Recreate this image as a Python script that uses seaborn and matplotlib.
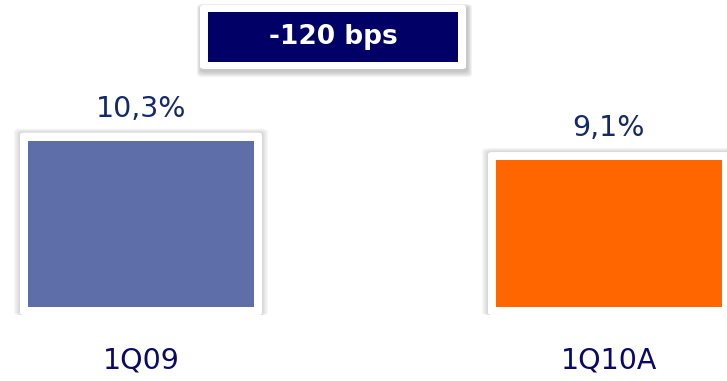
import matplotlib
matplotlib.use("Agg")
import matplotlib.pyplot as plt
from matplotlib.patches import FancyBboxPatch
import seaborn as sns

# Quarterly ratio, first quarter comparison
categories = ["1Q09", "1Q10A"]
values = [10.3, 9.1]
value_labels = ["10,3%", "9,1%"]
bar_colors = ["#5E6EA8", "#FF6600"]
change_label = "-120 bps"

sns.set_theme(style="white")
plt.rcParams["font.family"] = ["DejaVu Sans"]

W, H = 727, 381
fig = plt.figure(figsize=(W / 100, H / 100), dpi=100)
ax = fig.add_axes([0, 0, 1, 1])

sns.barplot(x=categories, y=values, hue=categories, palette=bar_colors,
            width=0.483, legend=False, saturation=1, linewidth=0, ax=ax, zorder=3)

px = 1 / 16.15  # data units per pixel vertically
ax.set_xlim(-141 / 468, 586 / 468)
ax.set_ylim(-74 * px, 307 * px)
ax.axis("off")
ax.set_zorder(2)
ax.patch.set_visible(False)


def framed_box(x0, y0, x1, y1, zorder, grow=(5, 5, 5, 0), shift=(0, 0), alpha=0.05):
    """White card (pixel coords, origin bottom-left) with a soft gray halo."""
    gl, gr, gt, gb = grow
    for k in range(1, 6):
        f = k / 5
        hx0, hx1 = x0 - gl * f + shift[0], x1 + gr * f + shift[0]
        hy0, hy1 = y0 - gb * f + shift[1], y1 + gt * f + shift[1]
        halo = FancyBboxPatch((hx0 / W, hy0 / H), (hx1 - hx0) / W, (hy1 - hy0) / H,
                              boxstyle="round,pad=0,rounding_size=0.008",
                              facecolor="#606060", edgecolor="none", alpha=alpha,
                              transform=fig.transFigure, zorder=zorder - 0.5)
        fig.add_artist(halo)
    card = FancyBboxPatch((x0 / W, y0 / H), (x1 - x0) / W, (y1 - y0) / H,
                          boxstyle="round,pad=0,rounding_size=0.006",
                          facecolor="white", edgecolor="none",
                          transform=fig.transFigure, zorder=zorder)
    fig.add_artist(card)


# white frame with a soft halo behind every bar
fig.canvas.draw()
pad = 8
for patch in list(ax.patches):
    bb = patch.get_window_extent()
    framed_box(bb.x0 - pad, bb.y0 - pad, bb.x1 + pad, bb.y1 + pad, zorder=1,
               grow=(6, 6, 4, 0))

for i, (v, lab) in enumerate(zip(values, value_labels)):
    ax.text(i, v + 24 * px, lab, ha="center", va="baseline",
            fontsize=20.5, color="#13296B")
for i, cat in enumerate(categories):
    ax.text(i, -61 * px, cat, ha="center", va="baseline",
            fontsize=20.5, color="#0A0A66")

# change badge above the bars
framed_box(200, H - 69, 466, H - 5, zorder=5, grow=(4, 5, 3, 6), shift=(1, -2), alpha=0.08)
inner = plt.Rectangle((208 / W, 1 - 62 / H), 250 / W, 50 / H,
                      facecolor="#000066", edgecolor="none",
                      transform=fig.transFigure, zorder=6)
fig.add_artist(inner)
fig.text(333 / W, 1 - 37 / H, change_label, ha="center", va="center",
         fontsize=19, fontweight="bold", color="white", zorder=7)

fig.savefig("out.png", dpi=100, facecolor="white")
